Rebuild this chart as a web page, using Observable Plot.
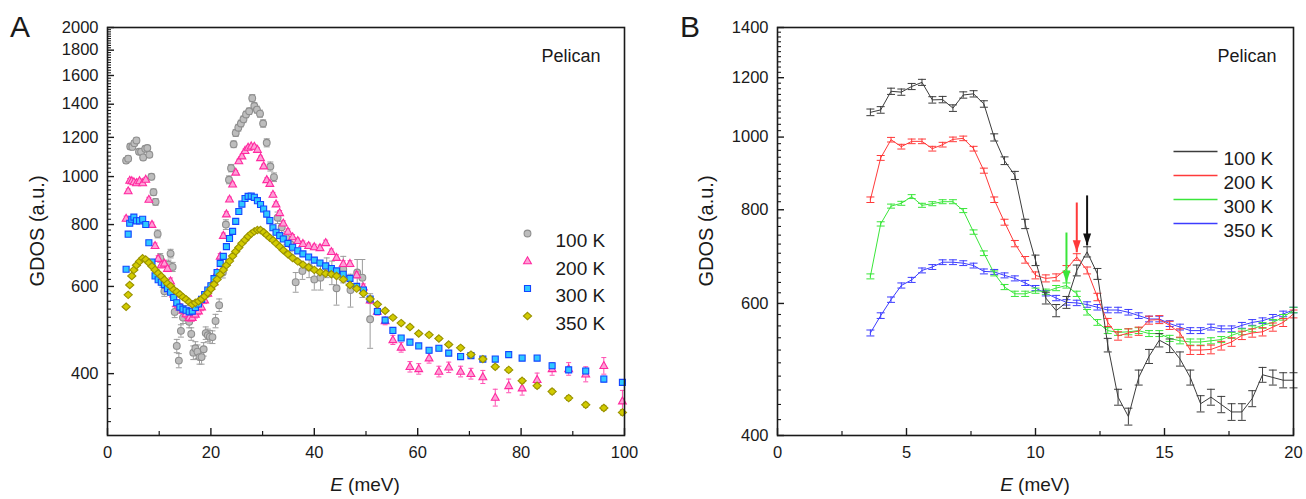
<!DOCTYPE html>
<html>
<head>
<meta charset="utf-8">
<script src="https://cdn.jsdelivr.net/npm/d3@7"></script>
<script src="https://cdn.jsdelivr.net/npm/@observablehq/plot@0.6"></script>
<style>
html,body{margin:0;padding:0;background:#fff;}
#wrap{position:relative;width:1306px;height:499px;overflow:hidden;background:#fff;}
#wrap svg{position:absolute;top:0;}
</style>
</head>
<body>
<div id="wrap"></div>
<script>
// ---------------- DATA ----------------
const seriesNames = ["100 K", "200 K", "300 K", "350 K"];

// Panel A: shared energy grid for 200 K, 300 K, 350 K (meV)
const eA = [3.6,4.0,4.3,4.7,5.1,5.6,6.2,6.8,7.4,8.0,
  8.6,9.2,9.8,10.4,11.0,11.6,12.2,12.8,13.4,14.0,
  14.6,15.2,15.8,16.4,17.0,17.6,18.2,18.8,19.4,20.0,
  20.6,21.2,21.8,22.4,23.0,23.6,24.2,24.8,25.4,26.0,
  26.6,27.2,27.8,28.4,29.0,29.6,30.2,30.8,31.4,32.0,
  32.6,33.3,34.0,34.9,35.8,36.8,37.8,38.9,40.0,41.1,
  42.2,43.3,44.3,45.6,46.9,48.2,49.5,50.8,52.2,53.7,
  55.2,56.8,58.5,60.2,62.2,64.1,66.0,68.3,70.3,72.6,
  75.0,77.6,80.2,83.1,86.0,89.2,92.5,96.0,99.6];
const gA350 = [546,577,604,630,648,662,674,684,680,670,
  659,648,638,629,619,608,601,591,585,578,
  571,565,558,552,556,560,566,573,582,593,
  606,620,634,648,662,675,691,706,719,733,
  745,757,767,775,780,780,772,762,752,744,
  733,722,710,697,685,674,664,656,648,641,
  637,635,630,620,604,594,581,566,552,536,
  519,506,497,482,479,471,458,451,437,428,
  413,407,387,378,368,357,346,341,334];
const gA300 = [650,765,805,820,828,814,814,820,800,735,
  672,630,619,612,605,594,584,570,556,545,
  540,537,533,535,544,553,565,578,590,602,
  622,640,668,690,722,750,775,812,850,880,
  903,912,913,908,894,878,860,840,815,788,
  772,760,748,733,720,708,698,688,678,669,
  660,652,645,635,623,600,590,566,534,513,
  489,472,463,455,446,450,440,433,435,428,
  428,437,430,430,415,407,405,390,384];
const gA200 = [823,935,982,980,975,971,980,971,987,899,
  800,725,683,663,668,652,615,579,553,545,
  537,528,519,519,527,535,545,563,581,600,
  612,640,690,760,840,900,965,1020,1075,1100,
  1128,1145,1152,1150,1134,1091,1050,985,968,920,
  880,845,805,775,755,742,732,725,721,718,
  735,705,686,667,667,633,598,563,534,511,
  468,452,413,409,430,404,412,404,400,394,
  358,378,374,389,409,409,399,415,352];
const errA200 = [9,9,9,9,9,9,9,9,9,9, 9,9,9,9,9,9,9,9,9,9,
  9,9,9,9,9,9,9,9,9,9, 9,9,9,9,9,9,9,9,9,9,
  9,9,9,9,9,9,9,9,9,9, 9,9,9,9,9,9,9,9,9,9,
  9,9,9,9,9,9,9,9,9,9, 10,10,10,10,10,10,10,10,10,12,
  14,12,12,12,12,12,14,16,18];
const errA300 = 5;
const errA350 = 4;

// Panel A: 100 K (own grid)
const eA100 = [3.6,4.0,4.4,4.8,5.2,5.6, 6.1,6.5,6.9,7.3,7.7,8.1,
  8.5,8.9,9.3,9.7,10.2,10.6, 11.0,11.4,11.8,12.2,12.6,13.0,
  13.4,13.8,14.2,14.6,15.0,15.4, 15.8,16.2,16.6,17.0,17.4,17.8,
  18.2,18.6,19.0,19.4,19.8,20.3, 20.9,21.6,22.3,22.9,23.5,23.9,
  24.4,24.8,25.3,25.8,26.3,26.8, 27.4,28.0,28.4,28.9,29.5,30.1,
  30.8,31.5,32.2,32.9,33.7,34.6, 35.4,36.4,37.7,39.0,40.0,41.2,
  42.4,43.4,44.3,45.6,47.0,48.3, 49.3,50.8];
const gA100 = [1077,1087,1150,1148,1168,1183, 1122,1122,1093,1138,1142,1107,
  999,930,889,766,685,612, 587,602,664,699,657,533,
  455,425,488,519,535,525, 509,481,441,450,443,432,
  432,448,483,478,475,474, 511,550,640,800,985,1040,
  1162,1225,1255,1280,1305,1335, 1355,1440,1388,1365,1340,1280,
  1170,1048,997,826,790,752, 730,612,645,655,620,625,
  655,640,595,650,590,640, 625,515];
const errA100 = [14,14,14,14,14,14, 14,14,14,14,14,14,
  14,14,14,14,14,14, 14,14,14,14,14,14,
  14,14,14,14,14,14, 14,14,14,14,14,14,
  14,14,14,14,14,14, 16,16,16,18,18,18,
  18,20,20,20,20,20, 20,24,22,22,22,22,
  22,22,20,22,22,22, 25,28,25,30,30,35,
  30,35,45,40,45,40, 55,65];

// Panel B: energy grid (meV) and GDOS values
const eB = [3.6,4.0,4.4,4.8,5.2,5.6,6.0,6.4,6.8,7.2,7.6,8.0,8.4,8.8,9.2,9.6,10.0,10.4,10.8,11.2,11.6,
  12.0,12.4,12.8,13.2,13.6,14.0,14.4,14.8,15.2,15.6,16.0,16.4,16.8,17.2,17.6,18.0,18.4,18.8,19.2,19.6,20.0];
const gB100 = [1079,1087,1151,1148,1168,1183,1121,1122,1093,1138,1142,1107,999,930,889,766,685,610,587,602,664,
  703,657,528,450,424,478,510,536,527,506,478,441,450,440,430,430,448,482,478,474,474];
const gB200 = [825,938,992,971,987,987,965,977,993,996,965,902,825,770,721,686,654,648,650,667,692,
  664,612,566,543,548,551,570,571,561,548,520,520,521,527,533,544,548,550,558,566,581];
const gB300 = [652,766,809,816,833,811,815,820,820,798,747,700,658,631,618,618,624,622,629,634,618,
  584,566,552,549,550,552,547,547,539,535,533,533,535,537,544,550,555,561,566,575,588];
const gB350 = [548,578,607,634,645,664,671,681,681,679,674,662,661,654,648,639,629,619,610,602,601,
  598,593,588,588,584,578,572,572,564,558,552,552,558,555,555,561,566,569,575,581,588];
const errB100 = 11, errB200 = 7, errB300 = 5, errB350 = 5;

// Panel B arrows (green 300 K, red 200 K, black 100 K)
const arrowE = [11.2, 11.6, 12.0];
const arrowTop = [746, 818, 836];
const arrowTip = [640, 702, 717];

// Tick values
const xTicksA = [0, 20, 40, 60, 80, 100];
const xMinorA = [10, 30, 50, 70, 90];
const yTicksA = [400, 600, 800, 1000, 1200, 1400, 1600, 1800, 2000];
const xTicksB = [0, 5, 10, 15, 20];
const xMinorB = [2.5, 7.5, 12.5, 17.5];
const yTicksB = [400, 600, 800, 1000, 1200, 1400];

// ---------------- STYLES ----------------
const FONT = "'Liberation Sans', Arial, Helvetica, sans-serif";
const INK = "#1a1a1a";
const triSym = {draw(ctx) { ctx.moveTo(0, -4.2); ctx.lineTo(3.9, 2.8); ctx.lineTo(-3.9, 2.8); ctx.closePath(); }};
const diaSym = {draw(ctx) { ctx.moveTo(0, -3.7); ctx.lineTo(4.1, 0); ctx.lineTo(0, 3.7); ctx.lineTo(-4.1, 0); ctx.closePath(); }};
const styleA = [
  {symbol: "circle", fill: "#bdbdbd", stroke: "#8e8e8e", err: "#9c9c9c"},
  {symbol: triSym,   fill: "#ff9fd6", stroke: "#ff2aa0", err: "#ff4fb2"},
  {symbol: "square", fill: "#2fc8ff", stroke: "#1346ff", err: "#2a5cff"},
  {symbol: diaSym,   fill: "#d2cb00", stroke: "#9a9300", err: "#9a9300"}
];
const colorB = ["#3c3c3c", "#ff3a3a", "#3ae63a", "#3c3cff"];

// ---------------- HELPERS ----------------
const cap = w => ({draw(ctx) { ctx.moveTo(-w / 2, 0); ctx.lineTo(w / 2, 0); }});
const headDown = {draw(ctx) { ctx.moveTo(0, 0); ctx.lineTo(-4, -12); ctx.lineTo(4, -12); ctx.closePath(); }};
const rows = (E, G, err) => E.map((e, i) => ({e, v: G[i], err: Array.isArray(err) ? err[i] : err}));

function errMarks(data, color, w, sw = 1) {
  return [
    Plot.ruleX(data, {x: "e", y1: d => d.v - d.err, y2: d => d.v + d.err, stroke: color, strokeWidth: sw}),
    Plot.dot(data, {x: "e", y: d => d.v - d.err, symbol: cap(w), fill: "none", stroke: color, strokeWidth: sw}),
    Plot.dot(data, {x: "e", y: d => d.v + d.err, symbol: cap(w), fill: "none", stroke: color, strokeWidth: sw})
  ];
}

function axes(xMajor, xMinor, yMajor, yMinor) {
  return [
    Plot.axisX({ticks: xMajor, tickSize: 0, tickPadding: 11, label: null, fontSize: 16.5, tickFormat: d => String(d)}),
    Plot.axisX({ticks: xMajor, tickSize: 7, dy: -7, tickFormat: () => "", label: null, strokeWidth: 1.4}),
    Plot.axisX({ticks: xMinor, tickSize: 4, dy: -4, tickFormat: () => "", label: null, strokeWidth: 1.2}),
    Plot.axisY({ticks: yMajor, tickSize: 0, tickPadding: 9, label: null, fontSize: 16.5, tickFormat: d => String(d)}),
    Plot.axisY({ticks: yMajor, tickSize: 7, dx: 7, tickFormat: () => "", label: null, strokeWidth: 1.4}),
    Plot.axisY({ticks: yMinor, tickSize: 4, dx: 4, tickFormat: () => "", label: null, strokeWidth: 1.1})
  ];
}

function addTitles(svg, letter, letterX, xTitleX, yTitleX) {
  const s = d3.select(svg);
  s.append("text").attr("x", letterX).attr("y", 37).attr("text-anchor", "start").attr("font-size", 30)
    .attr("font-family", FONT).attr("fill", INK).text(letter);
  const t = s.append("text").attr("x", xTitleX).attr("y", 491).attr("text-anchor", "middle")
    .attr("font-size", 19).attr("font-family", FONT).attr("fill", INK);
  t.append("tspan").attr("font-style", "italic").text("E");
  t.append("tspan").text(" (meV)");
  s.append("text").attr("transform", `translate(${yTitleX},231) rotate(-90)`).attr("text-anchor", "middle")
    .attr("font-size", 20).attr("font-family", FONT).attr("fill", INK).text("GDOS (a.u.)");
}

const wrap = document.getElementById("wrap");

// ---------------- PANEL A ----------------
const dataA = [
  rows(eA100, gA100, errA100),
  rows(eA, gA200, errA200),
  rows(eA, gA300, errA300),
  rows(eA, gA350, errA350)
];
const yMinorA = d3.range(320, 2000, 20).filter(v => v % 200 !== 0);

const marksA = [];
dataA.forEach((d, i) => {
  const st = styleA[i];
  marksA.push(...errMarks(d, st.err, i === 0 ? 6 : 5, 1));
  marksA.push(Plot.dot(d, {x: "e", y: "v", symbol: st.symbol, r: 3.4, fill: st.fill, stroke: st.stroke, strokeWidth: 1.1}));
});
seriesNames.forEach((name, i) => {
  const st = styleA[i];
  marksA.push(Plot.dot([name], {frameAnchor: "top-left", dx: 420, dy: 206 + i * 27.5, symbol: st.symbol, r: 3.4,
    fill: st.fill, stroke: st.stroke, strokeWidth: 1.1}));
  marksA.push(Plot.text([name], {frameAnchor: "top-left", dx: 448, dy: 206 + i * 27.5, text: d => d,
    textAnchor: "start", fontSize: 19, fill: INK}));
});
marksA.push(Plot.text(["Pelican"], {frameAnchor: "top-right", dx: -24, dy: 22, text: d => d, textAnchor: "end", fontSize: 18, fill: INK}));
marksA.push(...axes(xTicksA, xMinorA, yTicksA, yMinorA));
marksA.push(Plot.frame({stroke: INK, strokeWidth: 1.6}));

const plotA = Plot.plot({
  width: 653, height: 499,
  marginLeft: 107, marginRight: 29, marginTop: 27, marginBottom: 64,
  x: {domain: [0, 100]},
  y: {type: "log", domain: [300, 2000]},
  style: {fontFamily: FONT, color: INK, background: "white", overflow: "visible"},
  marks: marksA
});
plotA.style.left = "0px";
addTitles(plotA, "A", 10, 365, 44);
wrap.appendChild(plotA);

// ---------------- PANEL B ----------------
const dataB = [
  rows(eB, gB100, errB100),
  rows(eB, gB200, errB200),
  rows(eB, gB300, errB300),
  rows(eB, gB350, errB350)
];
const yMinorB = d3.range(420, 1400, 20).filter(v => v % 200 !== 0);

const marksB = [];
[3, 2, 1, 0].forEach(i => {
  const d = dataB[i];
  marksB.push(Plot.line(d, {x: "e", y: "v", stroke: colorB[i], strokeWidth: 1}));
  marksB.push(...errMarks(d, colorB[i], 8, 1));
});
const arrowColors = [colorB[2], colorB[1], "#111111"];
arrowE.forEach((e, i) => {
  const a = [{e, top: arrowTop[i], tip: arrowTip[i]}];
  marksB.push(Plot.link(a, {x1: "e", x2: "e", y1: "top", y2: "tip", stroke: arrowColors[i], strokeWidth: 2}));
  marksB.push(Plot.dot(a, {x: "e", y: "tip", symbol: headDown, fill: arrowColors[i], stroke: "none"}));
});
seriesNames.forEach((name, i) => {
  marksB.push(Plot.dot([name], {frameAnchor: "top-left", dx: 418, dy: 124 + i * 24, symbol: cap(44), fill: "none",
    stroke: colorB[i], strokeWidth: 1.6, strokeOpacity: 1}));
  marksB.push(Plot.text([name], {frameAnchor: "top-left", dx: 446, dy: 124 + i * 24, text: d => d,
    textAnchor: "start", fontSize: 19, fill: INK}));
});
marksB.push(Plot.text(["Pelican"], {frameAnchor: "top-right", dx: -17, dy: 22, text: d => d, textAnchor: "end", fontSize: 18, fill: INK}));
marksB.push(...axes(xTicksB, xMinorB, yTicksB, yMinorB));
marksB.push(Plot.frame({stroke: INK, strokeWidth: 1.6}));

const plotB = Plot.plot({
  width: 653, height: 499,
  marginLeft: 124, marginRight: 13, marginTop: 27, marginBottom: 64,
  x: {domain: [0, 20]},
  y: {type: "log", domain: [400, 1400]},
  style: {fontFamily: FONT, color: INK, background: "white", overflow: "visible"},
  marks: marksB
});
plotB.style.left = "653px";
addTitles(plotB, "B", 27, 382, 60);
wrap.appendChild(plotB);
</script>
</body>
</html>
